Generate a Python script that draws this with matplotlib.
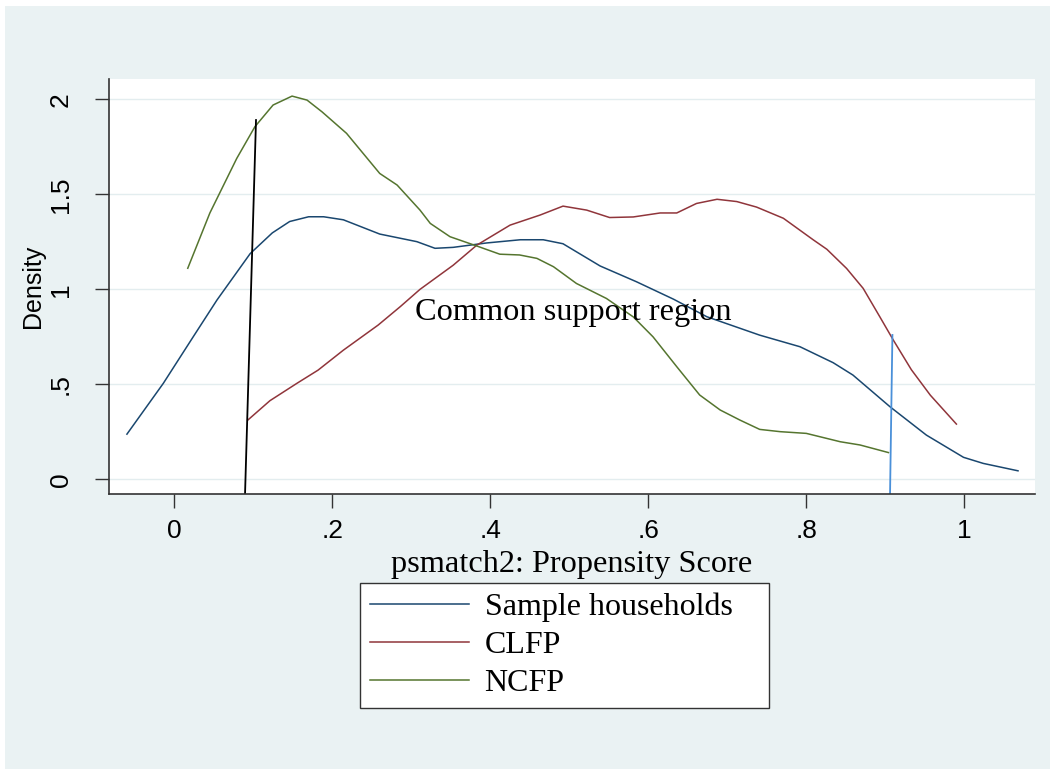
import matplotlib
matplotlib.use("Agg")
import matplotlib.pyplot as plt
from matplotlib.patches import Rectangle

# kernel density curves
sample_x = [-0.060, -0.014, 0.024, 0.054, 0.096, 0.124, 0.146, 0.170, 0.189, 0.214,
            0.260, 0.307, 0.330, 0.353, 0.395, 0.438, 0.467, 0.492, 0.539, 0.585,
            0.632, 0.674, 0.741, 0.792, 0.834, 0.859, 0.906, 0.952, 0.999, 1.024, 1.068]
sample_y = [0.238, 0.505, 0.751, 0.944, 1.188, 1.297, 1.357, 1.382, 1.382, 1.366,
            1.291, 1.251, 1.216, 1.221, 1.244, 1.261, 1.261, 1.240, 1.123, 1.040,
            0.948, 0.856, 0.759, 0.698, 0.614, 0.549, 0.382, 0.233, 0.116, 0.084, 0.045]

clfp_x = [0.093, 0.121, 0.155, 0.182, 0.214, 0.258, 0.286, 0.311, 0.353, 0.383,
          0.425, 0.463, 0.492, 0.522, 0.551, 0.581, 0.615, 0.636, 0.661, 0.687,
          0.712, 0.737, 0.771, 0.809, 0.826, 0.851, 0.872, 0.893, 0.910, 0.933,
          0.957, 0.990]
clfp_y = [0.312, 0.414, 0.505, 0.575, 0.680, 0.812, 0.909, 1.000, 1.127, 1.233,
          1.338, 1.391, 1.438, 1.417, 1.378, 1.381, 1.402, 1.402, 1.452, 1.474,
          1.462, 1.433, 1.374, 1.260, 1.211, 1.110, 1.005, 0.856, 0.734, 0.577,
          0.443, 0.291]

ncfp_x = [0.017, 0.045, 0.079, 0.102, 0.125, 0.149, 0.168, 0.187, 0.218, 0.260,
          0.282, 0.311, 0.324, 0.349, 0.383, 0.412, 0.437, 0.459, 0.480, 0.509,
          0.547, 0.581, 0.606, 0.636, 0.665, 0.691, 0.716, 0.741, 0.767, 0.800,
          0.843, 0.868, 0.904]
ncfp_y = [1.111, 1.402, 1.689, 1.856, 1.970, 2.017, 1.996, 1.934, 1.821, 1.610,
          1.549, 1.417, 1.347, 1.277, 1.228, 1.185, 1.181, 1.163, 1.119, 1.031,
          0.952, 0.855, 0.750, 0.593, 0.444, 0.365, 0.312, 0.263, 0.251, 0.242,
          0.198, 0.181, 0.141]

# support bounds (drawn lines)
low_x = [0.0895, 0.1034]
low_y = [-0.077, 1.891]
high_x = [0.906, 0.909]
high_y = [-0.077, 0.76]

xticks = [0, 0.2, 0.4, 0.6, 0.8, 1]
xticklabels = ["0", ".2", ".4", ".6", ".8", "1"]
yticks = [0, 0.5, 1, 1.5, 2]
yticklabels = ["0", ".5", "1", "1.5", "2"]

bg = "#EAF2F3"
serif = "Liberation Serif"
sans = "Liberation Sans"

fig = plt.figure(figsize=(10.5, 7.69), dpi=100, facecolor="white")
fig.patches.append(Rectangle((5 / 1050, 0), 1, 1 - 6 / 769, transform=fig.transFigure,
                             facecolor=bg, edgecolor="none", zorder=-10))
ax = fig.add_axes([109 / 1050, 1 - 494 / 769, (1035 - 109) / 1050, (494 - 79) / 769])
ax.set_facecolor("white")

ax.plot(sample_x, sample_y, color="#1a476f", lw=1.1, label="Sample households")
ax.plot(clfp_x, clfp_y, color="#90353b", lw=1.1, label="CLFP")
ax.plot(ncfp_x, ncfp_y, color="#55752f", lw=1.1, label="NCFP")
ax.plot(low_x, low_y, color="black", lw=1.3)
ax.plot(high_x, high_y, color="#4a90d9", lw=1.3)

ax.text(0.305, 0.88, "Common support region", family=serif, fontsize=23.3, va="center", ha="left")

ax.set_xlim(-0.0827, 1.0895)
ax.set_ylim(-0.077, 2.107)
ax.set_xticks(xticks)
ax.set_xticklabels(xticklabels, family=sans, fontsize=19)
ax.set_yticks(yticks)
ax.set_yticklabels(yticklabels, family=sans, fontsize=19, rotation=90, va="center")
ax.tick_params(axis="x", length=10, width=1, color="#333333", pad=8)
ax.tick_params(axis="y", length=10, width=1, color="#333333", pad=16)
ax.grid(axis="y", color="#E3EDEF", lw=1)
ax.set_axisbelow(True)
for s in ["top", "right"]:
    ax.spines[s].set_visible(False)
for s in ["left", "bottom"]:
    ax.spines[s].set_color("#333333")
    ax.spines[s].set_linewidth(1.2)

ax.set_xlabel("psmatch2: Propensity Score", family=serif, fontsize=23.3, labelpad=5)
ax.set_ylabel("Density", family=sans, fontsize=18, labelpad=3)

leg = fig.legend(loc="upper left", bbox_to_anchor=(360 / 1050, 1 - 706 / 769, 409 / 1050, 123 / 769),
                 mode="expand", prop={"family": serif, "size": 23},
                 frameon=True, fancybox=False, framealpha=1, facecolor="white", edgecolor="#333333",
                 handlelength=3.1, handletextpad=0.5, labelspacing=0.27, borderpad=0.3,
                 borderaxespad=0)
leg.get_frame().set_linewidth(1.0)

fig.savefig("out.png", dpi=100, facecolor=fig.get_facecolor())
